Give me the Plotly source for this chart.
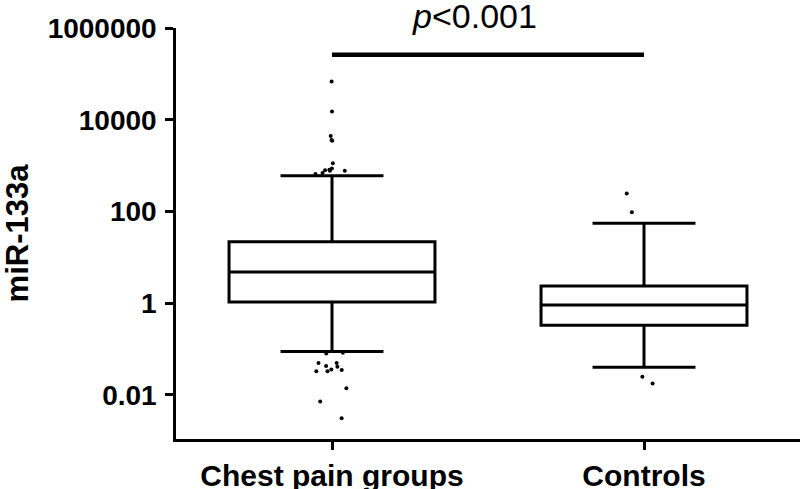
import plotly.graph_objects as go

# groups and box statistics
groups = ["Chest pain groups", "Controls"]
q1 = [1.07, 0.33]
median = [4.8, 0.92]
q3 = [22, 2.37]
lower_fence = [0.089, 0.040]
upper_fence = [600, 55.6]

# points beyond the whiskers
chest_outliers = [68000, 15200, 3600, 3500, 4400, 1120, 870, 810, 770, 690, 660, 770, 790,
                  0.083, 0.080, 0.050, 0.050, 0.041, 0.035, 0.033, 0.033, 0.036, 0.043,
                  0.014, 0.0072, 0.0031]
control_outliers = [247, 96, 0.025, 0.0177]

# significance bar
sig_level = [260000, 260000]
sig_text = "<i>p</i>&lt;0.001"

y_tickvals = [0.01, 1, 100, 10000, 1000000]
y_ticktext = ["0.01", "1", "100", "10000", "1000000"]

fig = go.Figure()
fig.add_trace(go.Box(
    x=groups,
    q1=q1, median=median, q3=q3,
    lowerfence=lower_fence, upperfence=upper_fence,
    y=[chest_outliers, control_outliers],
    boxpoints="all", jitter=0.18, pointpos=0,
    marker=dict(color="black", size=4),
    line=dict(color="black", width=3),
    fillcolor="white",
    whiskerwidth=0.5,
    width=0.66,
    showlegend=False,
    hoverinfo="y",
))
fig.add_trace(go.Scatter(
    x=groups, y=sig_level, mode="lines",
    line=dict(color="black", width=4.5),
    showlegend=False, hoverinfo="skip",
))

fig.add_annotation(
    text=sig_text, xref="paper", yref="paper", x=0.479, y=1.029,
    xanchor="center", yanchor="middle", showarrow=False,
    font=dict(family="Liberation Sans, Arial", size=34, color="black"),
)

fig.update_layout(
    width=800, height=489,
    margin={"l": 176, "r": 0, "t": 28, "b": 50},
    paper_bgcolor="white",
    plot_bgcolor="white",
    font=dict(family="Liberation Sans, Arial", color="black"),
    xaxis=dict(
        type="category", range=[-0.5, 1.5], automargin=False,
        showline=True, linecolor="black", linewidth=2.5,
        ticks="outside", ticklen=8, tickwidth=2.5, tickcolor="black",
        tickfont=dict(size=30, weight="bold"),
        showgrid=False, zeroline=False,
    ),
    yaxis=dict(
        type="log", range=[-2.96, 6.0], automargin=False,
        tickvals=y_tickvals, ticktext=y_ticktext,
        showline=True, linecolor="black", linewidth=2.5,
        ticks="outside", ticklen=8, tickwidth=2.5, tickcolor="black",
        tickfont=dict(size=28, weight="bold"), ticklabelstandoff=3,
        showgrid=False, zeroline=False,
        title=dict(text="miR-133a", font=dict(size=31, weight="bold"), standoff=13),
    ),
)

# the page's default 8px body margin would shift the whole chart
fig.write_html("out.html", config={"displayModeBar": False},
               post_script="document.body.style.margin = '0';")
